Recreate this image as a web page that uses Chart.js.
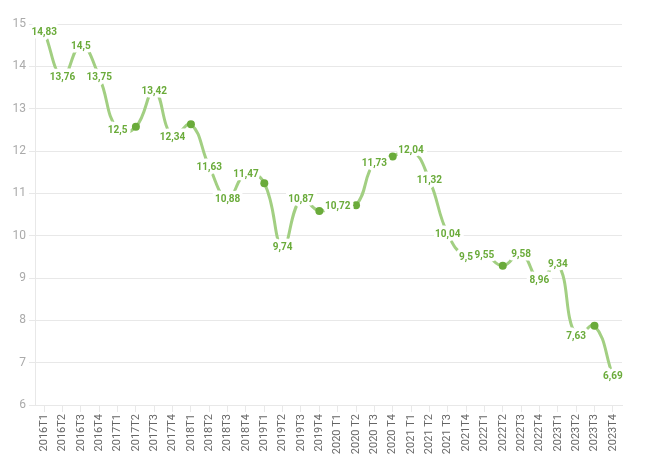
<!DOCTYPE html>
<html>
<head>
<meta charset="utf-8">
<script src="https://cdn.jsdelivr.net/npm/chart.js@4.4.1/dist/chart.umd.min.js"></script>
<style>
  html,body{margin:0;padding:0;background:#fff;}
  #wrap{position:relative;width:668px;height:473px;}
</style>
</head>
<body>
<div id="wrap"><canvas id="c"></canvas></div>
<script>
// trimestres
const categorias = ['2016T1','2016T2','2016T3','2016T4','2017T1','2017T2','2017T3','2017T4',
  '2018T1','2018T2','2018T3','2018T4','2019T1','2019T2','2019T3','2019T4',
  '2020 T1','2020 T2','2020 T3','2020 T4','2021 T1','2021 T2','2021 T3','2021T4',
  '2022T1','2022T2','2022T3','2022T4','2023T1','2023T2','2023T3','2023T4'];
const valores = [14.83, 13.76, 14.5, 13.75, 12.5, 12.57, 13.42, 12.34,
  12.63, 11.63, 10.88, 11.47, 11.24, 9.74, 10.87, 10.58,
  10.72, 10.72, 11.73, 11.87, 12.04, 11.32, 10.04, 9.5,
  9.55, 9.29, 9.58, 8.96, 9.34, 7.63, 7.87, 6.69];
// etiquetas visibles (null = sin etiqueta, se ve el marcador)
const etiquetas = ['14,83','13,76','14,5','13,75','12,5',null,'13,42','12,34',
  null,'11,63','10,88','11,47',null,'9,74','10,87',null,
  '10,72',null,'11,73',null,'12,04','11,32','10,04','9,5',
  '9,55',null,'9,58','8,96','9,34','7,63',null,'6,69'];
const yTicks = [6,7,8,9,10,11,12,13,14,15];

const verde = '#6aab3a', verdeClaro = '#a2cf82', gc = '#e8e8e8';

const labelPlugin = {
  id: 'etiquetas',
  afterDatasetsDraw(chart) {
    const ctx = chart.ctx, meta = chart.getDatasetMeta(0);
    ctx.save();
    ctx.font = 'bold 10px Roboto';
    ctx.textAlign = 'center';
    ctx.textBaseline = 'middle';
    ctx.lineJoin = 'round';
    ctx.strokeStyle = '#fff';
    ctx.lineWidth = 7;
    meta.data.forEach((pt, i) => {
      const t = etiquetas[i];
      if (!t) return;
      ctx.strokeText(t, pt.x, pt.y + 1);
    });
    ctx.fillStyle = verde;
    meta.data.forEach((pt, i) => {
      const t = etiquetas[i];
      if (!t) return;
      ctx.fillText(t, pt.x, pt.y + 1);
    });
    ctx.restore();
  }
};

new Chart(document.getElementById('c'), {
  type: 'line',
  data: { labels: categorias, datasets: [{
    data: valores, borderColor: verdeClaro, borderWidth: 3, tension: 0.45,
    pointRadius: etiquetas.map(t => t ? 0 : 4), pointBackgroundColor: verde, pointBorderColor: verde, pointBorderWidth: 0
  }]},
  options: {
    responsive: true, maintainAspectRatio: false, animation: false,
    layout: { padding: { top: 24, right: 46, left: 0, bottom: 0 } },
    plugins: { legend: { display: false }, tooltip: { enabled: false } },
    scales: {
      x: {
        offset: true,
        grid: { drawOnChartArea: false, drawTicks: true, tickLength: 7, color: gc },
        border: { color: gc },
        ticks: { minRotation: 90, maxRotation: 90, autoSkip: false, padding: 2,
          color: '#666', font: { size: 11, family: 'Roboto' } },
        afterFit: s => { s.height = 68; }
      },
      y: {
        min: 6, max: 15,
        afterBuildTicks: s => { s.ticks = yTicks.map(v => ({ value: v })); },
        grid: { color: gc, tickLength: 6 },
        border: { color: gc },
        ticks: { color: '#aaa', padding: 3, font: { size: 12, family: 'Roboto' } },
        afterFit: s => { s.width = 35; }
      }
    }
  },
  plugins: [labelPlugin]
});
</script>
</body>
</html>
